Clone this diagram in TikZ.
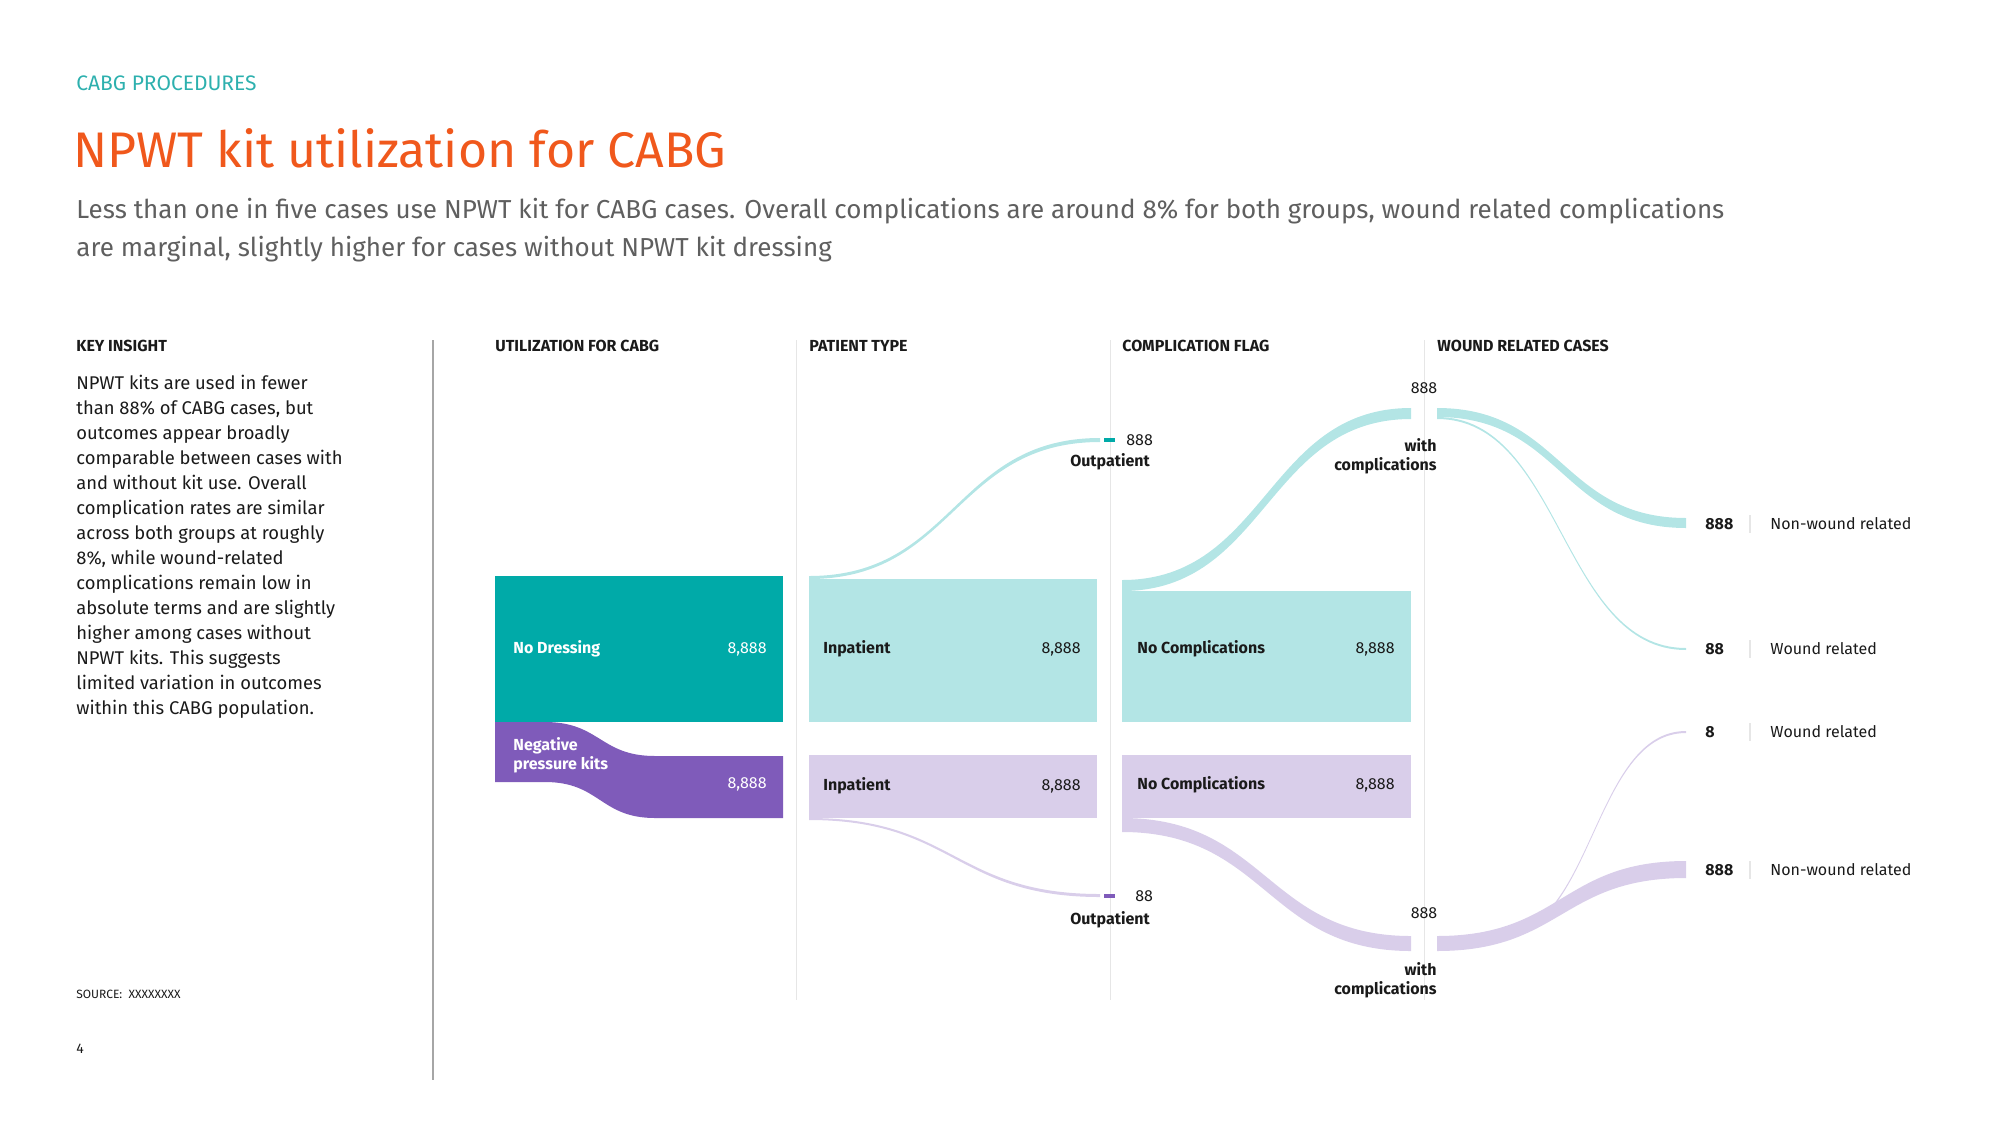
\documentclass[tikz,border=0pt]{standalone}
\usepackage{fontspec}
\setmainfont{Fira Sans}
\usepackage{tikz}
\definecolor{tealD}{HTML}{00AAA8}
\definecolor{tealL}{HTML}{B3E5E5}
\definecolor{purpD}{HTML}{7F5BBA}
\definecolor{purpL}{HTML}{D9CEEA}
\definecolor{titleC}{HTML}{F0581C}
\definecolor{kickC}{HTML}{2DB0AE}
\definecolor{subC}{HTML}{5F5F5F}
\definecolor{inkC}{HTML}{1A1A1A}
\definecolor{ruleC}{HTML}{E6E6E6}
\tikzset{
  head/.style={anchor=west,font=\fontsize{8}{9}\selectfont\bfseries,text=inkC,inner sep=0pt},
  barlab/.style={anchor=west,font=\fontsize{8}{9}\selectfont\bfseries,text=inkC,inner sep=0pt},
  barval/.style={anchor=east,font=\fontsize{8}{9}\selectfont,text=inkC,inner sep=0pt},
  small/.style={font=\fontsize{8}{9.5}\selectfont,text=inkC,inner sep=0pt},
}
% sankey band: x1, top1, bot1, x2, top2, bot2, colour
\newcommand{\band}[7]{%
  \pgfmathsetmacro{\xm}{(#1+#4)/2}
  \fill[#7] (#1,#2) .. controls (\xm,#2) and (\xm,#5) .. (#4,#5) -- (#4,#6)
    .. controls (\xm,#6) and (\xm,#3) .. (#1,#3) -- cycle;}
\begin{document}
\begin{tikzpicture}[x=0.5pt,y=-0.5pt]
  \useasboundingbox (0,0) rectangle (2000,1125);
  % heading
  \node[anchor=west,inner sep=0pt,text=kickC,font=\fontsize{10.5}{12}\selectfont] (kick) at (76,83) {CABG PROCEDURES};
  \node[anchor=west,inner sep=0pt,text=titleC,font=\fontsize{25}{30}\selectfont] (title) at (73,148) {NPWT kit utilization for CABG};
  \node[anchor=north west,inner sep=0pt,text=subC,align=left,font=\fontsize{13}{19}\selectfont] (sub) at (76,198)
    {Less than one in five cases use NPWT kit for CABG cases. Overall complications are around 8\% for both groups, wound related complications\\
     are marginal, slightly higher for cases without NPWT kit dressing};
  % left column
  \node[head] (hkey) at (76,346) {KEY INSIGHT};
  \node[anchor=north west,inner sep=0pt,align=left,text=inkC,font=\fontsize{9.2}{12.5}\selectfont] (insight) at (76,375)
    {NPWT kits are used in fewer\\ than 88\% of CABG cases, but\\ outcomes appear broadly\\ comparable between cases with\\
     and without kit use. Overall\\ complication rates are similar\\ across both groups at roughly\\ 8\%, while wound-related\\
     complications remain low in\\ absolute terms and are slightly\\ higher among cases without\\ NPWT kits. This suggests\\
     limited variation in outcomes\\ within this CABG population.};
  \node[anchor=west,inner sep=0pt,text=inkC,font=\fontsize{6}{7}\selectfont] (src) at (76,994) {SOURCE:\ \ XXXXXXXX};
  \node[anchor=west,inner sep=0pt,text=inkC,font=\fontsize{7}{8}\selectfont] (page) at (76,1049) {4};
  \draw[gray!70,line width=0.8pt] (433,340) -- (433,1080);
  \foreach \x in {796,1110,1424}
    \draw[ruleC,line width=0.5pt] (\x,340) -- (\x,1000);
  % column headers
  \node[head] (h1) at (495,346) {UTILIZATION FOR CABG};
  \node[head] (h2) at (809,346) {PATIENT TYPE};
  \node[head] (h3) at (1122,346) {COMPLICATION FLAG};
  \node[head] (h4) at (1437,346) {WOUND RELATED CASES};
  % flows
  \band{809}{576}{579}{1100}{438}{442}{tealL}
  \band{809}{818}{820}{1100}{894}{897}{purpL}
  \band{1122}{580}{591}{1411}{408}{419}{tealL}
  \band{1122}{818}{832}{1411}{936}{951}{purpL}
  \band{1437}{408}{417}{1686}{518}{528}{tealL}
  \band{1437}{417}{419}{1686}{648}{650}{tealL}
  \band{1437}{936}{951}{1686}{861}{878}{purpL}
  \band{1500}{934}{936}{1686}{731}{733}{purpL}
  % bars
  \fill[tealD] (495,576) rectangle (783,722);
  \fill[purpD] (495,722) -- (545,722) .. controls (600,722) and (600,756) .. (655,756) -- (783,756)
    -- (783,818) -- (655,818) .. controls (600,818) and (600,782) .. (545,782) -- (495,782) -- cycle;
  \fill[tealL] (809,579) rectangle (1097,722);
  \fill[purpL] (809,755) rectangle (1097,818);
  \fill[tealL] (1122,591) rectangle (1411,722);
  \fill[purpL] (1122,755) rectangle (1411,818);
  \fill[tealD] (1104,438) rectangle (1115,442);
  \fill[purpD] (1104,894) rectangle (1115,898);
  % bar labels
  \node[barlab,text=white] (nd) at (513,649) {No Dressing};
  \node[barval,text=white] (ndv) at (767,649) {8,888};
  \node[barlab,text=white,align=left,anchor=north west,font=\fontsize{8}{9.5}\selectfont\bfseries] (np) at (513,737) {Negative\\ pressure kits};
  \node[barval,text=white] (npv) at (767,784) {8,888};
  \node[barlab] (ip1) at (823,649) {Inpatient};
  \node[barval] (ip1v) at (1081,649) {8,888};
  \node[barlab] (ip2) at (823,786) {Inpatient};
  \node[barval] (ip2v) at (1081,786) {8,888};
  \node[barlab] (nc1) at (1137,649) {No Complications};
  \node[barval] (nc1v) at (1395,649) {8,888};
  \node[barlab] (nc2) at (1137,785) {No Complications};
  \node[barval] (nc2v) at (1395,785) {8,888};
  % outpatient / with complications labels
  \node[small,anchor=west] (op1v) at (1126,440) {888};
  \node[small,font=\fontsize{8}{9}\selectfont\bfseries] (op1) at (1110,462) {Outpatient};
  \node[small,anchor=west] (op2v) at (1135,896) {88};
  \node[small,font=\fontsize{8}{9}\selectfont\bfseries] (op2) at (1110,920) {Outpatient};
  \node[small] (wc1v) at (1424,388) {888};
  \node[small,anchor=north east,align=right,font=\fontsize{8}{9.5}\selectfont\bfseries] (wc1) at (1437,438) {with\\ complications};
  \node[small] (wc2v) at (1424,913) {888};
  \node[small,anchor=north east,align=right,font=\fontsize{8}{9.5}\selectfont\bfseries] (wc2) at (1437,962) {with\\ complications};
  % outcome labels
  \foreach \y/\v/\t in {524/888/Non-wound related,649/88/Wound related,732/8/Wound related,870/888/Non-wound related}{
    \node[small,anchor=west,font=\fontsize{8}{9}\selectfont\bfseries] at (1705,\y) {\v};
    \draw[ruleC,line width=0.6pt] (1750,\y-9) -- (1750,\y+9);
    \node[small,anchor=west] at (1770,\y) {\t};
  }
\end{tikzpicture}
\end{document}
